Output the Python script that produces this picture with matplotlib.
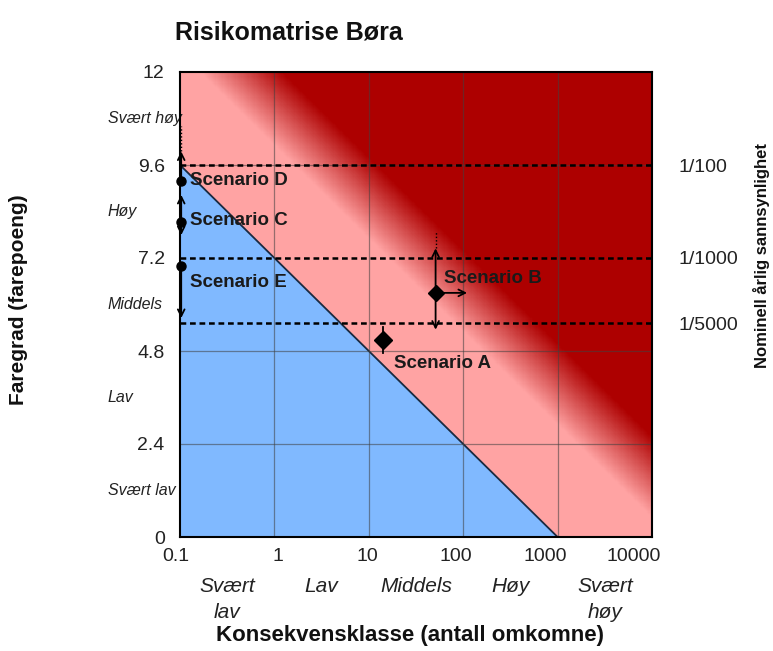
import numpy as np
import matplotlib
matplotlib.use("Agg")
import matplotlib.pyplot as plt
from matplotlib.colors import LinearSegmentedColormap
from matplotlib.transforms import blended_transform_factory, ScaledTranslation

plt.rcParams['font.family'] = ['Liberation Sans', 'DejaVu Sans']

# ---- data ----
title = "Risikomatrise Børa"
x_ticks = [0.1, 1, 10, 100, 1000, 10000]
x_tick_labels = ["0.1", "1", "10", "100", "1000", "10000"]
x_classes = ["Svært\nlav", "Lav", "Middels", "Høy", "Svært\nhøy"]
x_class_pos = [10**-0.5, 10**0.5, 10**1.5, 10**2.5, 10**3.5]
y_ticks = [0, 2.4, 4.8, 7.2, 9.6, 12]
y_tick_labels = ["0", "2.4", "4.8", "7.2", "9.6", "12"]
y_classes = ["Svært lav", "Lav", "Middels", "Høy", "Svært høy"]
y_class_pos = [1.2, 3.6, 6.0, 8.4, 10.8]
prob_levels = [9.6, 7.2, 5.52]
prob_labels = ["1/100", "1/1000", "1/5000"]

# acceptance line: y = line_y0 - line_slope*log10(x)
line_y0 = 7.2
line_slope = 2.4
grad_start, grad_end = 10.1, 12.2

scen_names = ["Scenario A", "Scenario B", "Scenario C", "Scenario D", "Scenario E"]
scen_x = [14, 51, 0.103, 0.103, 0.103]
scen_y = [5.08, 6.30, 8.13, 9.20, 7.00]
scen_up = [np.nan, 7.45, 8.83, 9.95, np.nan]
scen_down = [np.nan, 5.35, 7.79, np.nan, 5.65]
scen_right = [np.nan, 110, np.nan, np.nan, np.nan]
scen_dotted_top = [np.nan, 7.9, np.nan, 10.6, np.nan]
scen_marker = ["D", "D", "o", "o", "o"]
scen_msize = [9, 8, 6.5, 6.5, 6.5]
a_whisker = [4.75, 5.42]
label_x = [18.5, 62.7, 0.1276, 0.1276, 0.1276]
label_y = [4.49, 6.66, 8.18, 9.21, 6.58]

# ---- figure ----
fig = plt.figure(figsize=(7.73, 6.51), dpi=100)
ax = fig.add_axes([180/773, 1-537/651, 472/773, 465/651])
ax.set_xscale('log')
ax.set_xlim(0.1, 10000)
ax.set_ylim(0, 12)

pink = "#FFA3A3"
dark = "#AD0000"
blue = "#80B9FF"
cmap = LinearSegmentedColormap.from_list("pr", [pink, dark])

xe = 10**np.linspace(-1, 4, 401)
ye = np.linspace(0, 12, 401)
xc = np.sqrt(xe[:-1]*xe[1:])
yc = 0.5*(ye[:-1]+ye[1:])
XC, YC = np.meshgrid(xc, yc)
S = YC + line_slope*np.log10(XC)
T = np.clip((S-grad_start)/(grad_end-grad_start), 0, 1)
ax.pcolormesh(xe, ye, T, cmap=cmap, vmin=0, vmax=1, shading='flat',
              antialiased=False, rasterized=True, zorder=0)

xl = np.logspace(-1, 3, 200)
yl = line_y0 - line_slope*np.log10(xl)
ax.fill_between(xl, 0, yl, color=blue, lw=0, zorder=1)
ax.plot(xl, yl, color="#1a2a40", lw=1.3, zorder=2)

for xv in x_ticks[1:-1]:
    ax.axvline(xv, color="#404040", lw=0.9, alpha=0.55, zorder=2)
for yv in [2.4, 4.8, 9.6]:
    ax.axhline(yv, color="#404040", lw=0.9, alpha=0.55, zorder=2)

for yv in prob_levels:
    ax.axhline(yv, color="black", lw=1.8, ls=(0, (2.3, 1.5)), zorder=3)

# scenarios
for i in range(len(scen_names)):
    x0, y0 = scen_x[i], scen_y[i]
    if not np.isnan(scen_dotted_top[i]):
        top = scen_up[i] if not np.isnan(scen_up[i]) else y0
        ax.plot([x0, x0], [top, scen_dotted_top[i]], color="black", lw=1,
                ls=(0, (1, 1.5)), zorder=4, clip_on=False)
    for end in (scen_up[i], scen_down[i]):
        if not np.isnan(end):
            ax.annotate("", xy=(x0, end), xytext=(x0, y0),
                        arrowprops=dict(arrowstyle="->", color="black", lw=1.3,
                                        shrinkA=0, shrinkB=0, mutation_scale=12),
                        zorder=4, annotation_clip=False)
    if not np.isnan(scen_right[i]):
        ax.annotate("", xy=(scen_right[i], y0), xytext=(x0, y0),
                    arrowprops=dict(arrowstyle="->", color="black", lw=1.3,
                                    shrinkA=0, shrinkB=0, mutation_scale=12),
                    zorder=4)
    ax.plot([x0], [y0], marker=scen_marker[i], ms=scen_msize[i], color="black",
            zorder=5, clip_on=False)
    ax.text(label_x[i], label_y[i], scen_names[i], fontsize=13.5, fontweight='bold',
            color="#1a1a1a", ha='left', va='center', zorder=6)

ax.plot([scen_x[0], scen_x[0]], a_whisker, color="black", lw=1.3, zorder=4)

# axes styling
for sp in ax.spines.values():
    sp.set_linewidth(1.5)
    sp.set_color("black")
    sp.set_zorder(7)

ax.set_xticks(x_ticks)
ax.set_xticklabels(x_tick_labels)
ax.xaxis.set_minor_locator(matplotlib.ticker.NullLocator())
ax.set_yticks(y_ticks)
ax.set_yticklabels(y_tick_labels)
ax.tick_params(axis='both', length=0, labelsize=14, colors="#222222")
ax.tick_params(axis='x', pad=8)
ax.tick_params(axis='y', pad=11)
for lab in ax.get_xticklabels():
    lab.set_ha('right')
    lab.set_transform(lab.get_transform() + ScaledTranslation(9/100, 0, fig.dpi_scale_trans))

sec = ax.secondary_yaxis('right')
sec.set_yticks(prob_levels)
sec.set_yticklabels(prob_labels)
sec.tick_params(direction='in', length=4, width=1, pad=19, labelsize=14,
                colors="#222222")
sec.spines['right'].set_visible(False)

trY = blended_transform_factory(ax.transAxes, ax.transData)
for lab, yv in zip(y_classes, y_class_pos):
    ax.text(-72/472, yv, lab, transform=trY, ha='left', va='center',
            fontsize=11.5, style='italic', color="#222222")
trX = blended_transform_factory(ax.transData, ax.transAxes)
for lab, xv in zip(x_classes, x_class_pos):
    for k, line in enumerate(lab.split("\n")):
        ax.text(xv, (537-587-25*k)/465, line, transform=trX, ha='center', va='center',
                fontsize=15, style='italic', color="#222222")

fig.text(175/773, 1-33/651, title, fontsize=18, fontweight='bold',
         ha='left', va='center', color="#111111")
fig.text(410/773, 1-636/651, "Konsekvensklasse (antall omkomne)", fontsize=16,
         fontweight='bold', ha='center', va='center', color="#111111")
fig.text(19/773, 1-300/651, "Faregrad (farepoeng)", fontsize=15,
         fontweight='bold', ha='center', va='center', rotation=90, color="#111111")
fig.text(762/773, 1-256/651, "Nominell årlig sannsynlighet", fontsize=12,
         fontweight='bold', ha='center', va='center', rotation=90, color="#111111")

fig.savefig("out.png", dpi=100)
